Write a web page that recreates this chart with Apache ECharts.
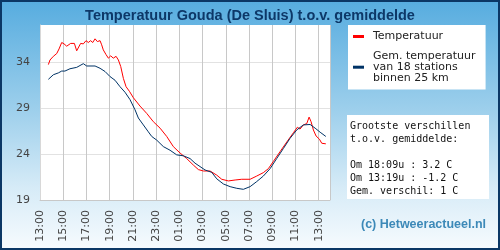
<!DOCTYPE html>
<html>
<head>
<meta charset="utf-8">
<script src="https://cdn.jsdelivr.net/npm/echarts@6/dist/echarts.min.js"></script>
<style>
  html, body { margin: 0; padding: 0; }
  #wrap { position: relative; width: 500px; height: 250px; }
  #chart {
    width: 500px;
    height: 250px;
    background: linear-gradient(to bottom, #56acdf 0%, #9fd0ec 45%, #d6ebf7 75%, #f7fbfe 100%);
  }
  #frame {
    position: absolute;
    left: 0; top: 0;
    width: 500px; height: 250px;
    box-sizing: border-box;
    border: 2px solid #0b3765;
    pointer-events: none;
  }
</style>
</head>
<body>
<div id="wrap">
  <div id="chart"></div>
  <div id="frame"></div>
</div>
<script>
// tijd in uren na 13:00
const redHours = [0.72, 0.86, 1.15, 1.44, 1.64, 1.87, 2.07, 2.3, 2.44, 2.64, 2.81, 2.96, 3.16, 3.5, 3.73, 3.96, 4.16, 4.36, 4.54, 4.74, 4.94, 5.17, 5.31, 5.45, 5.68, 5.89, 6.09, 6.31, 6.55, 6.75, 6.95, 7.18, 7.41, 7.7, 8.04, 8.61, 9.19, 9.76, 10.34, 10.91, 11.48, 12.06, 12.63, 13.2, 13.64, 14.07, 14.64, 15.22, 15.65, 16.22, 16.8, 17.37, 18.09, 18.66, 19.23, 19.66, 20.1, 20.67, 21.25, 21.82, 22.16, 22.39, 22.68, 22.97, 23.17, 23.34, 23.54, 23.77, 24.06, 24.26, 24.4, 24.61];
const redTemps = [33.7, 34.2, 34.6, 34.9, 35.4, 36.1, 35.95, 35.7, 35.85, 36.0, 35.8, 36.0, 35.2, 36.0, 35.95, 36.3, 36.1, 36.3, 36.1, 36.5, 36.2, 36.3, 35.85, 35.3, 34.8, 34.4, 34.65, 34.4, 34.6, 34.2, 33.5, 32.2, 31.3, 30.8, 30.1, 29.2, 28.4, 27.5, 26.8, 25.9, 24.8, 24.1, 23.5, 22.8, 22.3, 22.15, 22.15, 21.7, 21.25, 21.07, 21.17, 21.25, 21.25, 21.6, 21.97, 22.4, 23.2, 24.25, 25.3, 26.3, 26.9, 26.7, 27.15, 27.3, 28.0, 27.5, 26.6, 25.95, 25.6, 25.16, 25.27, 25.1];
const blueHours = [0.72, 1.15, 1.58, 1.87, 2.15, 2.58, 3.16, 3.73, 4.02, 4.74, 5.17, 5.6, 6.03, 6.46, 6.89, 7.32, 7.75, 8.18, 8.47, 8.9, 9.33, 9.62, 10.05, 10.62, 11.2, 11.77, 12.34, 12.92, 13.35, 14.21, 14.79, 15.22, 15.79, 16.37, 16.94, 17.51, 18.09, 18.66, 19.23, 19.81, 20.38, 20.96, 21.53, 22.1, 22.68, 23.26, 23.69, 24.12, 24.61];
const blueTemps = [32.1, 32.6, 32.8, 33.0, 33.0, 33.25, 33.4, 33.8, 33.55, 33.55, 33.3, 32.95, 32.4, 32.0, 31.3, 30.7, 29.9, 28.8, 27.9, 27.15, 26.4, 25.9, 25.5, 24.8, 24.4, 23.9, 23.8, 23.5, 23.0, 22.26, 22.0, 21.3, 20.74, 20.45, 20.27, 20.16, 20.45, 21.0, 21.6, 22.4, 23.5, 24.6, 25.7, 26.6, 27.15, 27.2, 26.8, 26.36, 25.9];
const seriesNames = ["Temperatuur", "Gem. temperatuur\nvan 18 stations\nbinnen 25 km"];
const statLines = ["Grootste verschillen", "t.o.v. gemiddelde:", "", "Om 18:09u : 3.2 C", "Om 13:19u : -1.2 C", "Gem. verschil: 1 C"];
const startHour = 13;

function zip(xs, ys) {
  return xs.map((x, i) => [x, ys[i]]);
}

const myChart = echarts.init(document.getElementById("chart"));
const option = {
  animation: false,
  backgroundColor: "transparent",
  title: {
    text: "Temperatuur Gouda (De Sluis) t.o.v. gemiddelde",
    left: "center",
    top: 3,
    textStyle: {
      fontFamily: "Liberation Sans",
      fontSize: 14.5,
      fontWeight: "bold",
      color: "#0d3868"
    }
  },
  legend: {
    orient: "vertical",
    left: 348,
    top: 25,
    backgroundColor: "#fff",
    padding: [6, 10, 6, 5],
    itemGap: 9,
    itemWidth: 11,
    itemHeight: 3,
    icon: "rect",
    textStyle: {
      fontFamily: "DejaVu Sans",
      fontSize: 11,
      lineHeight: 10.7,
      color: "#222",
      padding: [0, 0, 0, 4]
    },
    data: seriesNames
  },
  grid: {
    left: 40,
    top: 25,
    right: 170,
    bottom: 50,
    show: true,
    backgroundColor: "#fff",
    borderWidth: 0
  },
  xAxis: {
    type: "value",
    min: 0,
    max: 24.97,
    interval: 2,
    axisLine: { lineStyle: { color: "#c8c8c8" } },
    axisTick: { show: false },
    axisLabel: {
      rotate: 90,
      margin: 10,
      fontFamily: "DejaVu Sans",
      fontSize: 11,
      color: "#444",
      showMaxLabel: false,
      formatter: function (v) {
        const h = (startHour + Math.round(v)) % 24;
        return (h < 10 ? "0" : "") + h + ":00";
      }
    },
    splitLine: { show: true, lineStyle: { color: "#c8c8c8" } }
  },
  yAxis: {
    type: "value",
    min: 19,
    max: 38,
    interval: 5,
    axisLine: { show: true, lineStyle: { color: "#d8d8d8" } },
    axisTick: { show: false },
    axisLabel: {
      margin: 10,
      fontFamily: "DejaVu Sans",
      fontSize: 11,
      color: "#444",
      showMaxLabel: false
    },
    splitLine: { show: true, showMaxLine: false, lineStyle: { color: "#e2e2e2" } }
  },
  graphic: [
    {
      type: "rect",
      left: 347,
      top: 115,
      shape: { width: 142, height: 84 },
      style: { fill: "#fff" }
    },
    {
      type: "text",
      left: 350,
      top: 119.5,
      style: {
        text: statLines.join("\n"),
        fontFamily: "DejaVu Sans Mono",
        fontSize: 10,
        lineHeight: 13,
        fill: "#111"
      }
    },
    {
      type: "text",
      left: 361,
      top: 218,
      style: {
        text: "(c) Hetweeractueel.nl",
        fontFamily: "Liberation Sans",
        fontSize: 12.5,
        fontWeight: "bold",
        fill: "#3c89b8"
      }
    }
  ],
  series: [
    {
      name: seriesNames[0],
      type: "line",
      data: zip(redHours, redTemps),
      showSymbol: false,
      lineStyle: { color: "#ff0000", width: 1 },
      itemStyle: { color: "#ff0000" }
    },
    {
      name: seriesNames[1],
      type: "line",
      data: zip(blueHours, blueTemps),
      showSymbol: false,
      lineStyle: { color: "#003366", width: 1 },
      itemStyle: { color: "#003366" }
    }
  ]
};
myChart.setOption(option);
</script>
</body>
</html>
